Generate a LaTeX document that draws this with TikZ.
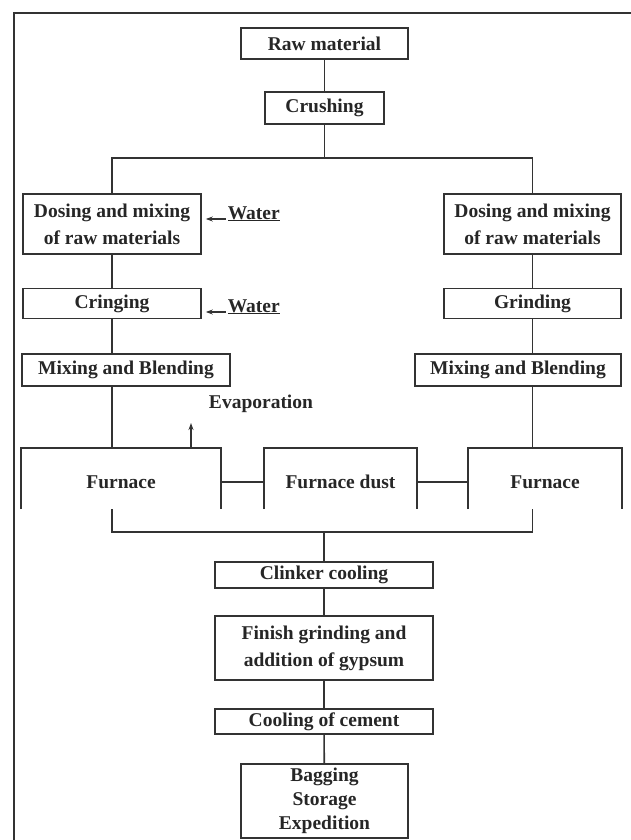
\documentclass[tikz,border=0pt]{standalone}
\usepackage{fontspec}
\setmainfont{Liberation Serif}
\usepackage{tikz}
\usetikzlibrary{calc,arrows.meta}

\begin{document}
\begin{tikzpicture}[x=1pt,y=-1pt,line width=1.6pt,black!80]
  % `stage' is used for every process box.
  % `oven' is used for the furnace row (its bottom edge is cut off).
  % `note' is used for the side labels (water, evaporation).
  \tikzstyle{stage} = [draw=black!80,fill=white,align=center,inner sep=2pt,text=black!85,font=\fontsize{19.5}{27}\selectfont\bfseries]
  \tikzstyle{oven} = [stage,draw=none,fill=none,minimum height=66pt]
  \tikzstyle{note} = [inner sep=0pt,text=black!85,font=\fontsize{19.5}{27}\selectfont\bfseries]
  \tikzstyle{feed} = [-{Stealth[length=7pt,width=5pt]},line width=1.2pt]
  \useasboundingbox (0,0) rectangle (631,840);
  % Outer frame.
  \draw[line width=2pt] (631,13) -- (14,13) -- (14,840);
  %
  % Trunk.
  \node[stage,minimum width=167pt,minimum height=31pt] (raw) at (324.5,43.5) {Raw material};
  \node[stage,minimum width=119pt,minimum height=32pt] (crush) at (324.5,108) {Crushing};
  % Left branch.
  \node[stage,minimum width=178pt,minimum height=60pt] (dosL) at (112,224) {Dosing and mixing\\of raw materials};
  \node[stage,minimum width=178pt,minimum height=30pt] (cring) at (112,303.5) {Cringing};
  \node[stage,minimum width=208pt,minimum height=32pt] (mixL) at (126,370) {Mixing and Blending};
  % Right branch.
  \node[stage,minimum width=177pt,minimum height=60pt] (dosR) at (532.5,224) {Dosing and mixing\\of raw materials};
  \node[stage,minimum width=177pt,minimum height=30pt] (grind) at (532.5,303.5) {Grinding};
  \node[stage,minimum width=206pt,minimum height=32pt] (mixR) at (518,370) {Mixing and Blending};
  % Furnace row.
  \node[oven,minimum width=198pt] (furL) at (121,482) {Furnace};
  \node[oven,minimum width=151pt] (dust) at (340.5,482) {Furnace dust};
  \node[oven,minimum width=152pt] (furR) at (545,482) {Furnace};
  % Final stages.
  \node[stage,minimum width=218pt,minimum height=26pt] (clink) at (324,575) {Clinker cooling};
  \node[stage,minimum width=218pt,minimum height=64pt] (finish) at (324,648) {Finish grinding and\\addition of gypsum};
  \node[stage,minimum width=218pt,minimum height=25pt] (coolc) at (324,721.5) {Cooling of cement};
  \node[stage,minimum width=167pt,minimum height=74pt,font=\fontsize{19.5}{24}\selectfont\bfseries] (bag) at (324.5,801) {Bagging\\Storage\\Expedition};
  %
  % Side labels.
  \node[note,anchor=base west] (water1) at (227,219) {\underline{Water}};
  \node[note,anchor=base west] (water2) at (227,312) {\underline{Water}};
  \node[note] (evap) at (261,404) {Evaporation};
  \coordinate (vent) at (191,423);
  %
  % Furnace boxes: three sides only.
  \foreach \f in {furL,dust,furR}
    \draw ($(\f.north west)+(0,61)$) |- (\f.north east) -- ++(0,61);
  %
  % Connectors.
  \coordinate (split) at (crush.south |- 0,158);
  \coordinate (merge) at (clink.north |- 0,532);
  \coordinate (cutL) at ($(cring.south |- furL.north)+(0,61)$);
  \coordinate (cutR) at ($(grind.south |- furR.north)+(0,61)$);
  \draw (raw) -- (crush) (crush) -- (split);
  \draw (dosL.north) |- (split) -| (dosR.north);
  \draw (dosL) -- (cring) (cring.south) -- (cring.south |- mixL.north)
        (cring.south |- mixL.south) -- (cring.south |- furL.north);
  \draw (dosR) -- (grind) (grind.south) -- (grind.south |- mixR.north)
        (grind.south |- mixR.south) -- (grind.south |- furR.north);
  \draw (furL.east) -- (dust.west) (dust.east) -- (furR.west);
  \draw (cutL) |- (merge) -| (cutR);
  \draw (merge) -- (clink) (clink) -- (finish) (finish) -- (coolc) (coolc) -- (bag);
  \draw[feed] ([xshift=-1pt]water1.base west) -- ($(water1.base west -| dosL.east)+(4,0)$);
  \draw[feed] ([xshift=-1pt]water2.base west) -- ($(water2.base west -| cring.east)+(4,0)$);
  \draw[feed] (vent |- furL.north) -- (vent);
\end{tikzpicture}
\end{document}
